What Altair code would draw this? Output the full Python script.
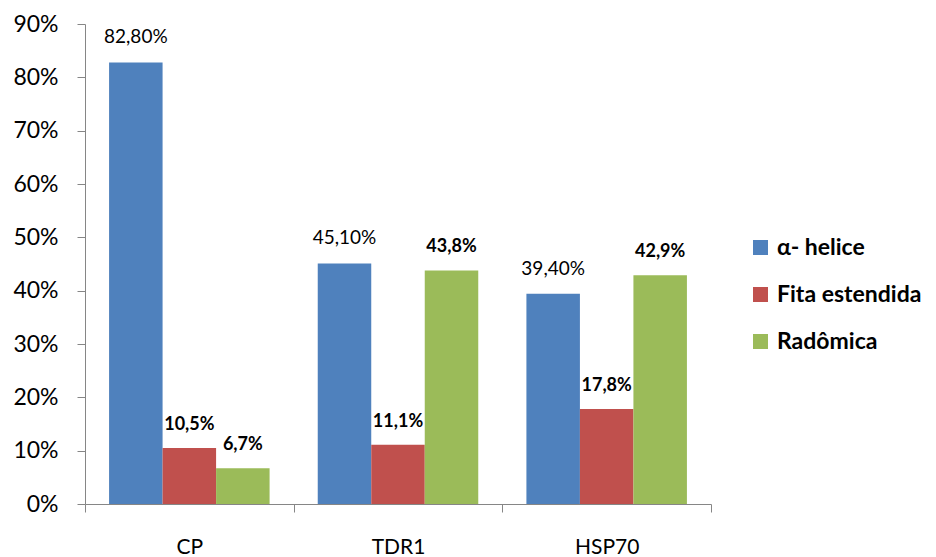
import altair as alt
import pandas as pd

categories = ["CP", "TDR1", "HSP70"]
series = ["α- helice", "Fita estendida", "Radômica"]
helice = [0.828, 0.451, 0.394]
fita = [0.105, 0.111, 0.178]
radomica = [0.067, 0.438, 0.429]
helice_labels = ["82,80%", "45,10%", "39,40%"]
fita_labels = ["10,5%", "11,1%", "17,8%"]
radomica_labels = ["6,7%", "43,8%", "42,9%"]
colors = ["#4F81BD", "#C0504D", "#9BBB59"]

rows = []
for vals, labs, s in [(helice, helice_labels, series[0]),
                      (fita, fita_labels, series[1]),
                      (radomica, radomica_labels, series[2])]:
    for c, v, l in zip(categories, vals, labs):
        rows.append({"cat": c, "series": s, "value": v, "label": l})
df = pd.DataFrame(rows)

FONT = "Lato"

x = alt.X("cat:N", sort=categories,
          scale=alt.Scale(paddingInner=0, paddingOuter=0),
          axis=alt.Axis(title=None, tickBand="extent", labelAngle=0,
                        labelFontSize=21, labelFont=FONT, labelColor="#000000",
                        labelPadding=24, tickSize=8, tickColor="#868686",
                        domainColor="#868686"))
xo = alt.XOffset("series:N", sort=series,
                 scale=alt.Scale(paddingOuter=0.45, paddingInner=0))
y = alt.Y("value:Q",
          scale=alt.Scale(domain=[0, 0.9], nice=False),
          axis=alt.Axis(title=None, values=[i / 10 for i in range(10)],
                        format=".0%", grid=False, tickSize=8,
                        tickColor="#868686", domainColor="#868686",
                        labelFontSize=23, labelFont=FONT, labelColor="#000000",
                        labelPadding=19))

base = alt.Chart(df)
bars = base.mark_bar().encode(
    x=x, xOffset=xo, y=y,
    color=alt.Color("series:N", sort=series,
                    scale=alt.Scale(domain=series, range=colors),
                    legend=alt.Legend(title=None, orient="none",
                                      legendX=664, legendY=212,
                                      symbolType="square", symbolSize=225,
                                      symbolStrokeWidth=0,
                                      labelFontSize=23, labelFont=FONT,
                                      labelFontWeight="bold",
                                      labelColor="#000000",
                                      rowPadding=23, labelOffset=5))
)
txt_normal = base.transform_filter(alt.datum.series == series[0]).mark_text(
    baseline="bottom", dy=-15, fontSize=19, font=FONT, color="#000000"
).encode(x=x, xOffset=xo, y=y, text="label:N")
txt_bold = base.transform_filter(alt.datum.series != series[0]).mark_text(
    baseline="bottom", dy=-14, fontSize=18, font=FONT, fontWeight="bold",
    color="#000000"
).encode(x=x, xOffset=xo, y=y, text="label:N")

chart = alt.layer(bars, txt_normal, txt_bold).properties(
    width=626, height=480,
    autosize=alt.AutoSizeParams(type="none"),
    padding={"left": 85, "top": 24, "right": 225, "bottom": 53},
    background="#ffffff",
).configure_view(stroke=None)

chart.save("out.html", embed_options={"renderer": "svg", "actions": False})
